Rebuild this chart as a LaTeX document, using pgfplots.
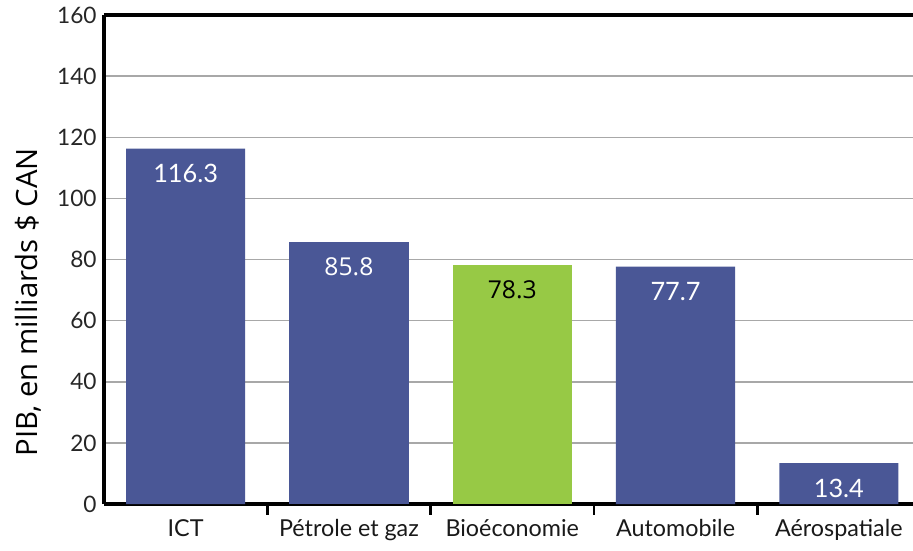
\documentclass[border=0pt]{standalone}
\usepackage{fontspec}
\setmainfont{Lato}
\newfontfamily\osans{Open Sans}
\usepackage{pgfplots}
\pgfplotsset{compat=1.18}
\definecolor{barblue}{HTML}{4A5796}
\definecolor{bargreen}{HTML}{97C945}
\definecolor{gridgray}{HTML}{A8A8A8}
\begin{document}
\begin{tikzpicture}
\begin{axis}[
  scale only axis, width=607pt, height=367pt,
  xmin=-0.5, xmax=4.454, ymin=0, ymax=160,
  clip=false,
  ytick={0,20,...,160},
  xtick={0,1,2,3,4},
  xticklabels={ICT, Pétrole et gaz, Bioéconomie, Automobile, Aérospatiale},
  minor xtick={0.5,1.5,2.5,3.5},
  major tick length=0pt,
  minor tick length=8pt,
  tick align=outside,
  minor tick style={black, line width=2pt},
  ymajorgrids, grid style={gridgray, line width=1pt},
  axis x line*=bottom, axis y line*=left,
  axis line style={black, line width=2.5pt},
  /pgf/number format/assume math mode=true,
  yticklabel style={font=\fontsize{17}{20}\selectfont, text=black!85, xshift=-2pt},
  xticklabel style={font=\fontsize{17.5}{21}\selectfont, text=black!90, yshift=-8pt},
  every axis y label/.style={at={(rel axis cs:0,0.413)}, xshift=-57pt, rotate=90, anchor=center},
  ylabel={PIB, en milliards \$ CAN},
  ylabel style={font=\osans\fontsize{22}{26}\selectfont},
  bar width=0.73,
  nodes near coords={\pgfmathprintnumber[fixed,fixed zerofill,precision=1]{\pgfplotspointmeta}},
  nodes near coords style={anchor=center, yshift=-19pt, font=\fontsize{19}{22}\selectfont, text=white},
]
\addplot[ybar, bar shift=0pt, fill=barblue, draw=none] coordinates {(0,116.3) (3,77.7) (4,13.4)};
\addplot[ybar, bar shift=0pt, fill=barblue, draw=none, nodes near coords style={font=\osans\fontsize{18.5}{21}\selectfont}] coordinates {(1,85.8)};
\addplot[ybar, bar shift=0pt, fill=bargreen, draw=none, nodes near coords style={font=\osans\fontsize{18.5}{21}\selectfont, text=black}] coordinates {(2,78.3)};
\draw[black, line width=2.5pt] (rel axis cs:0,1) -- (rel axis cs:1,1);
\coordinate (bl) at (rel axis cs:0,0);
\coordinate (tr) at (rel axis cs:1,1);
\end{axis}
\pgfresetboundingbox
\path ([xshift=-78pt,yshift=-34.5pt]bl) rectangle ([yshift=11.25pt]tr);
\end{tikzpicture}
\end{document}
